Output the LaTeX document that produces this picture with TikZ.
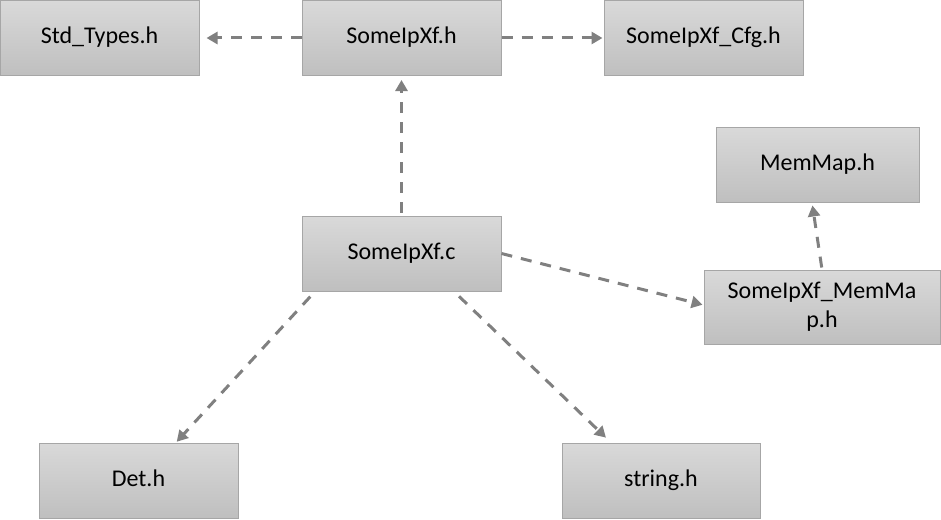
\documentclass[tikz,border=0pt]{standalone}
\usepackage{fontspec}
\setmainfont{Carlito}
\usetikzlibrary{arrows.meta,calc}
\definecolor{boxtop}{RGB}{217,217,217}
\definecolor{boxbot}{RGB}{191,191,191}
\definecolor{boxline}{RGB}{166,166,166}
\definecolor{arrowgray}{RGB}{128,128,128}
\tikzset{
  filebox/.style={draw=boxline, line width=1pt, top color=boxtop, bottom color=boxbot,
    minimum width=199pt, minimum height=75pt, inner sep=2pt, align=center,
    text height=16pt, text depth=5pt,
    font=\fontsize{24}{29}\selectfont, text=black},
  dep/.style={draw=arrowgray, line width=3pt, dash pattern=on 11pt off 9pt,
    -{Triangle[length=11pt,width=12pt]}}
}
\begin{document}
\begin{tikzpicture}[x=1pt,y=-1pt]
\useasboundingbox (0,0) rectangle (941,519);
\node[filebox] (std) at (99.5,38) {Std\_Types.h};
\node[filebox] (hdr) at (401.5,38) {SomeIpXf.h};
\node[filebox] (cfg) at (703.5,38) {SomeIpXf\_Cfg.h};
\node[filebox, minimum width=203pt] (mm) at (817.5,164.5) {MemMap.h};
\node[filebox, minimum width=236pt, minimum height=74pt, text height=, text depth=] (xmm) at (822,307) {SomeIpXf\_MemMa\\p.h};
\node[filebox] (c) at (401.5,253.5) {SomeIpXf.c};
\node[filebox] (det) at (138.5,480.5) {Det.h};
\node[filebox, minimum width=198pt] (str) at (661,480.5) {string.h};

\draw[dep, shorten >=7pt] (hdr.west) -- (std.east);
\draw[dep, shorten >=1pt] (hdr.east) -- (cfg.west);
\draw[dep, shorten <=3pt, shorten >=4pt] (c.north) -- (hdr.south);
\draw[dep, shorten >=1pt] (c.east) -- ([yshift=2pt]xmm.west);
\draw[dep, shorten <=2pt, shorten >=3pt] (xmm.north) -- ([xshift=-5.5pt]mm.south);
\draw[dep, shorten <=7pt, shorten >=1pt] ([xshift=-86.5pt]c.south) -- ([xshift=37.5pt]det.north);
\draw[dep, shorten <=7pt, shorten >=7pt] ([xshift=52.5pt]c.south) -- ([xshift=-50pt]str.north);
\end{tikzpicture}
\end{document}
